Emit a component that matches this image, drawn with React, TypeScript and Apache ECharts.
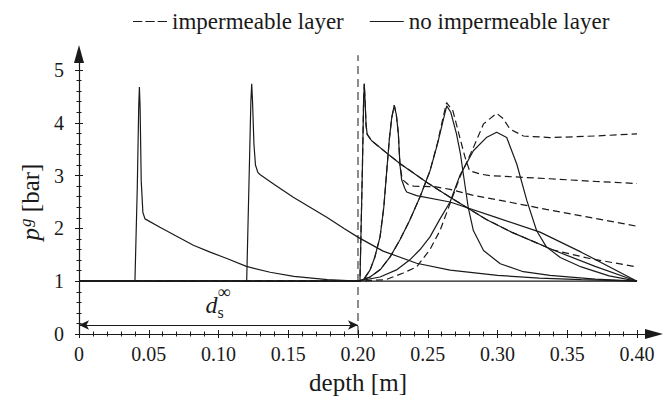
import React, { useEffect, useRef } from "react";
import * as echarts from "echarts";

const FONT = "Liberation Serif";
const INK = "#1a1a1a";

const legendNames = ["impermeable layer", "no impermeable layer"];
const xTickLabels = ["0", "0.05", "0.10", "0.15", "0.20", "0.25", "0.30", "0.35", "0.40"];
const yTickLabels = ["0", "1", "2", "3", "4", "5"];

// solid curves (no impermeable layer): [depth m, p bar]
const solidFront004 = [[0, 1], [0.0401, 1], [0.0418, 2.8], [0.0428, 4.3], [0.0433, 4.68], [0.0438, 4.3], [0.0446, 2.9], [0.0458, 2.3], [0.0473, 2.18], [0.058, 2.02], [0.07, 1.85], [0.082, 1.68], [0.094, 1.55], [0.106, 1.43], [0.12, 1.28], [0.137, 1.17], [0.154, 1.09], [0.178, 1.03], [0.2, 1.0], [0.4, 1.0]];
const solidFront012 = [[0, 1], [0.1202, 1], [0.1218, 2.8], [0.1232, 4.4], [0.1238, 4.74], [0.1244, 4.4], [0.1254, 3.6], [0.1265, 3.2], [0.1282, 3.06], [0.1297, 3.02], [0.14, 2.83], [0.1536, 2.59], [0.1776, 2.21], [0.19, 2.0], [0.2002, 1.83], [0.218, 1.57], [0.242, 1.34], [0.266, 1.21], [0.3, 1.11], [0.33, 1.06], [0.36, 1.03], [0.4, 1.0]];
const solidFront020 = [[0, 1], [0.2014, 1], [0.2032, 3.2], [0.204, 4.4], [0.2045, 4.74], [0.2051, 4.4], [0.2058, 3.95], [0.2066, 3.78], [0.2098, 3.66], [0.22, 3.44], [0.23, 3.23], [0.25, 2.86], [0.266, 2.59], [0.292, 2.17], [0.31, 1.93], [0.34, 1.59], [0.37, 1.28], [0.4, 1.0]];
const solidPeak0225 = [[0, 1], [0.2, 1], [0.204, 1.03], [0.2086, 1.21], [0.212, 1.45], [0.2158, 1.84], [0.2185, 2.4], [0.2206, 3.09], [0.2225, 3.7], [0.2242, 4.1], [0.226, 4.33], [0.2275, 4.15], [0.2289, 3.8], [0.2301, 3.2], [0.2313, 2.92], [0.2335, 2.76], [0.2349, 2.69], [0.242, 2.62], [0.266, 2.5], [0.3, 2.2], [0.3305, 1.93], [0.36, 1.55], [0.4, 1.0]];
const solidPeak0265 = [[0, 1], [0.2, 1], [0.2086, 1.08], [0.216, 1.22], [0.223, 1.46], [0.23, 1.78], [0.237, 2.15], [0.2445, 2.6], [0.2516, 3.09], [0.257, 3.6], [0.261, 4.04], [0.2636, 4.32], [0.2665, 4.2], [0.2706, 3.79], [0.2735, 3.4], [0.2755, 3.03], [0.279, 2.4], [0.2827, 1.96], [0.29, 1.58], [0.302, 1.33], [0.3185, 1.18], [0.3376, 1.11], [0.37, 1.04], [0.4, 1.0]];
const solidPeak0300 = [[0, 1], [0.2, 1], [0.2158, 1.08], [0.228, 1.22], [0.237, 1.4], [0.2445, 1.6], [0.2516, 1.84], [0.2588, 2.18], [0.266, 2.5], [0.273, 3.0], [0.2827, 3.47], [0.292, 3.72], [0.2994, 3.82], [0.3066, 3.72], [0.3138, 3.22], [0.321, 2.53], [0.328, 1.96], [0.335, 1.65], [0.345, 1.45], [0.36, 1.27], [0.38, 1.1], [0.4, 1.0]];

// dashed curves (impermeable layer)
const dashFront020 = [[0, 1], [0.2014, 1], [0.2032, 3.2], [0.204, 4.4], [0.2045, 4.74], [0.2051, 4.4], [0.2058, 3.95], [0.2066, 3.78], [0.2098, 3.66], [0.22, 3.44], [0.23, 3.23], [0.25, 2.86], [0.266, 2.59], [0.292, 2.17], [0.31, 1.93], [0.34, 1.59], [0.366, 1.43], [0.4, 1.27]];
const dashPeak0225 = [[0, 1], [0.2, 1], [0.204, 1.03], [0.2086, 1.21], [0.212, 1.45], [0.2158, 1.84], [0.2185, 2.4], [0.2206, 3.09], [0.2225, 3.7], [0.2242, 4.1], [0.226, 4.33], [0.2275, 4.15], [0.2289, 3.8], [0.2301, 3.2], [0.2313, 3.0], [0.2325, 2.91], [0.236, 2.83], [0.24, 2.8], [0.255, 2.79], [0.266, 2.74], [0.282, 2.63], [0.31, 2.49], [0.335, 2.36], [0.366, 2.21], [0.4, 2.04]];
const dashPeak0265 = [[0, 1], [0.2, 1], [0.2086, 1.08], [0.216, 1.22], [0.223, 1.46], [0.23, 1.78], [0.237, 2.15], [0.2445, 2.6], [0.2516, 3.09], [0.257, 3.62], [0.261, 4.1], [0.2635, 4.38], [0.268, 4.23], [0.273, 3.72], [0.2767, 3.35], [0.28, 3.09], [0.2875, 3.03], [0.2946, 3.0], [0.3376, 2.94], [0.37, 2.89], [0.4, 2.85]];
const dashPeak0300 = [[0, 1], [0.2, 1], [0.22, 1.03], [0.232, 1.15], [0.242, 1.27], [0.2516, 1.6], [0.2588, 1.96], [0.266, 2.47], [0.273, 2.97], [0.2827, 3.53], [0.29, 3.98], [0.2994, 4.18], [0.304, 4.08], [0.309, 3.88], [0.3186, 3.75], [0.3376, 3.72], [0.37, 3.75], [0.4, 3.79]];

const solidCurves = [solidFront004, solidFront012, solidFront020, solidPeak0225, solidPeak0265, solidPeak0300];
const dashedCurves = [dashFront020, dashPeak0225, dashPeak0265, dashPeak0300];

const saturationDepth = 0.2;
const saturationLineTop = 5.28;
const arrowLevel = 0.17;

const DASH_ICON = "path://M0,0H9V1H0Z M12,0H21V1H12Z M24,0H33V1H24Z";
const SOLID_ICON = "path://M0,0H33V1H0Z";

const serif = (size: number, extra: any = {}) => ({ fontFamily: FONT, fontSize: size, color: INK, ...extra });

export default function App() {
  const ref = useRef<HTMLDivElement>(null);
  useEffect(() => {
    document.body.style.margin = "0";
    const chart = echarts.init(ref.current!, null, { renderer: "svg" });
    const tickAxisBase = {
      type: "value",
      gridIndex: 0,
      axisLine: { show: false, onZero: false },
      splitLine: { show: false },
    };
    const series: any[] = [];
    dashedCurves.forEach((d) =>
      series.push({
        type: "line",
        name: legendNames[0],
        xAxisIndex: 0,
        yAxisIndex: 0,
        data: d,
        symbol: "none",
        lineStyle: { color: INK, width: 1.2, type: [7, 4] },
        itemStyle: { color: INK },
        z: 3,
      })
    );
    solidCurves.forEach((d) =>
      series.push({
        type: "line",
        name: legendNames[1],
        xAxisIndex: 0,
        yAxisIndex: 0,
        data: d,
        symbol: "none",
        lineStyle: { color: INK, width: 1.2 },
        itemStyle: { color: INK },
        z: 2,
      })
    );
    series.push({
      type: "line",
      name: "ds",
      xAxisIndex: 2,
      yAxisIndex: 2,
      data: [[saturationDepth, 0], [saturationDepth, saturationLineTop]],
      symbol: "none",
      lineStyle: { color: INK, width: 1, type: [8, 5] },
      markLine: {
        silent: true,
        symbol: ["arrow", "arrow"],
        symbolSize: [7, 10],
        label: { show: false },
        lineStyle: { color: INK, width: 1, type: "solid" },
        data: [[{ coord: [0, arrowLevel] }, { coord: [saturationDepth, arrowLevel] }]],
      },
    });

    chart.setOption({
      animation: false,
      backgroundColor: "#fff",
      textStyle: { fontFamily: FONT, color: INK },
      legend: {
        data: [
          { name: legendNames[0], icon: DASH_ICON },
          { name: legendNames[1], icon: SOLID_ICON },
        ],
        left: 128,
        top: 5,
        itemWidth: 34,
        itemHeight: 1.3,
        itemGap: 26,
        formatter: (n: string) => `{t|${n}}`,
        textStyle: serif(23, { rich: { t: serif(23) } }),
      },
      grid: [
        { left: 79, right: 35, top: 70, bottom: 72 },
        { left: 79, right: 18, top: 54, bottom: 72 },
      ],
      xAxis: [
        {
          ...tickAxisBase,
          min: 0,
          max: 0.4,
          interval: 0.05,
          position: "bottom",
          axisTick: { show: true, inside: true, length: 4, lineStyle: { color: INK, width: 1 } },
          minorTick: { show: true, splitNumber: 5, length: 2.5, lineStyle: { color: INK, width: 1 } },
          axisLabel: {
            margin: 10,
            ...serif(20),
            rich: { t: serif(20) },
            formatter: (v: number) => `{t|${xTickLabels[Math.round(v / 0.05)] ?? ""}}`,
          },
          name: "{t|depth [m]}",
          nameLocation: "middle",
          nameGap: 36,
          nameTextStyle: serif(25, { rich: { t: serif(25) } }),
        },
        {
          ...tickAxisBase,
          min: 0,
          max: 0.4,
          interval: 0.05,
          position: "bottom",
          axisTick: { show: true, inside: false, length: 4, lineStyle: { color: INK, width: 1 } },
          minorTick: { show: true, splitNumber: 5, length: 2.5, lineStyle: { color: INK, width: 1 } },
          axisLabel: { show: false },
        },
        {
          type: "value",
          gridIndex: 1,
          min: 0,
          max: 0.4122,
          position: "bottom",
          axisLine: { show: true, onZero: false, symbol: ["none", "triangle"], symbolSize: [10, 18], lineStyle: { color: INK, width: 1.2 } },
          axisTick: { show: false },
          axisLabel: { show: false },
          splitLine: { show: false },
        },
      ],
      yAxis: [
        {
          ...tickAxisBase,
          min: 0,
          max: 5,
          interval: 1,
          position: "left",
          axisTick: { show: true, inside: true, length: 4, lineStyle: { color: INK, width: 1 } },
          minorTick: { show: true, splitNumber: 5, length: 2.5, lineStyle: { color: INK, width: 1 } },
          axisLabel: {
            margin: 15,
            ...serif(20),
            rich: { t: serif(20) },
            formatter: (v: number) => `{t|${yTickLabels[Math.round(v)] ?? ""}}`,
          },
          name: "{p|p}{g|g} {b|[bar]}",
          nameLocation: "middle",
          nameRotate: 90,
          nameGap: 34,
          nameTextStyle: serif(25, {
            rich: {
              p: serif(25, { fontStyle: "italic" }),
              g: serif(17, { fontStyle: "italic", verticalAlign: "top", padding: [0, 0, 10, 1] }),
              b: serif(25),
            },
          }),
        },
        {
          ...tickAxisBase,
          min: 0,
          max: 5,
          interval: 1,
          position: "left",
          axisTick: { show: true, inside: false, length: 4, lineStyle: { color: INK, width: 1 } },
          minorTick: { show: true, splitNumber: 5, length: 2.5, lineStyle: { color: INK, width: 1 } },
          axisLabel: { show: false },
        },
        {
          type: "value",
          gridIndex: 1,
          min: 0,
          max: 5.303,
          position: "left",
          axisLine: { show: true, onZero: false, symbol: ["none", "triangle"], symbolSize: [10, 18], lineStyle: { color: INK, width: 1.2 } },
          axisTick: { show: false },
          axisLabel: { show: false },
          splitLine: { show: false },
        },
      ],
      series,
    });

    const mid = chart.convertToPixel({ gridIndex: 1 } as any, [saturationDepth / 2, arrowLevel]) as number[];
    chart.setOption({
      graphic: [
        {
          type: "text",
          x: mid[0] - 13,
          y: mid[1] - 32,
          style: { text: "d", font: `italic 24px ${FONT}`, fill: INK },
        },
        {
          type: "text",
          x: mid[0] - 1,
          y: mid[1] - 21,
          style: { text: "s", font: `16px ${FONT}`, fill: INK },
        },
        {
          type: "text",
          x: mid[0] - 1,
          y: mid[1] - 42,
          style: { text: "∞", font: `18px ${FONT}`, fill: INK },
        },
      ],
    });

    return () => chart.dispose();
  }, []);
  return <div ref={ref} style={{ width: 672, height: 406 }} />;
}
